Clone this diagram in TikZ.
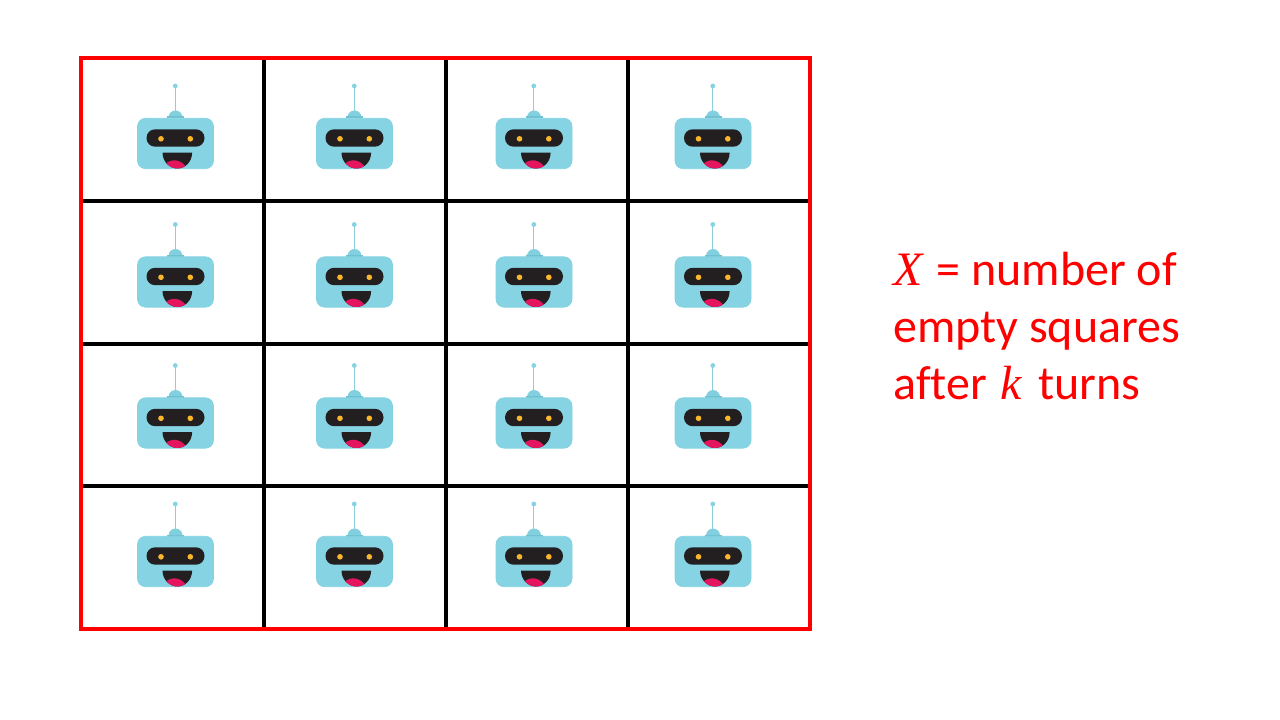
\documentclass[tikz,border=0pt]{standalone}
\usepackage{fontspec}
\usepackage{tikz}
\setmainfont{Carlito}[Ligatures=NoCommon]
\newfontfamily\varfont{Liberation Serif}
\definecolor{botblue}{HTML}{85D3E3}
\definecolor{botdark}{HTML}{6FC1D0}
\definecolor{botface}{HTML}{231F20}
\definecolor{boteye}{HTML}{FBB72C}
\definecolor{botpink}{HTML}{E5145F}
\tikzset{
    gridline/.style={line width=3pt,black},
    outline/.style={line width=3pt,red},
    label/.style={text=red,inner sep=0pt,align=left,font=\fontsize{36}{42.75}\selectfont},
    robot/.pic={
        \draw [botdark!80!white,line width=1pt] (-.2,-28) -- (-.2,-57);
        \fill [botblue] (-.2,-57.5) circle (2.4);
        \fill [botblue!80!botdark] (-7,-26) arc (180:360:7) -- cycle;
        \fill [botdark] (-8.5,-27) rectangle (8.5,-25);
        \draw [botblue!92!botdark,fill=botblue,line width=.5pt,rounded corners=6pt]
            (-38,-25.2) rectangle (38,25.2);
        \fill [botface,rounded corners=6.4pt] (-29,-14.2) rectangle (29,3.2);
        \fill [boteye] (-14.5,-4.7) circle (2.8);
        \fill [boteye] (14.8,-4.7) circle (2.8);
        \begin{scope}
            \clip (-13,9.2) -- (16.6,9.2) .. controls (16.6,18) and (10,25) .. (1.9,25)
                .. controls (-6,25) and (-13,18) .. (-13,9.2) -- cycle;
            \fill [botface] (-14,8) rectangle (18,26);
            \fill [botpink] (-10,20.5) .. controls (-4,14.5) and (7,15.5) .. (12,26) -- (-10,26) -- cycle;
        \end{scope}
    }
}
\begin{document}
\begin{tikzpicture}[x=.75pt,y=-.75pt]
    \useasboundingbox (0,0) rectangle (1280,720);
    % grid lines
    \draw [gridline] (263.5,58) -- (263.5,629);
    \draw [gridline] (445.5,58) -- (445.5,629);
    \draw [gridline] (628,58) -- (628,629);
    \draw [gridline] (81,201) -- (810,201);
    \draw [gridline] (81,343.5) -- (810,343.5);
    \draw [gridline] (81,486) -- (810,486);
    \draw [outline] (81,58) rectangle (810,629);
    % robots
    \pic at (175.5,143.5) {robot};
    \pic at (354.5,143.5) {robot};
    \pic at (534,143.5) {robot};
    \pic at (713,143.5) {robot};
    \pic at (175.5,282) {robot};
    \pic at (354.5,282) {robot};
    \pic at (534,282) {robot};
    \pic at (713,282) {robot};
    \pic at (175.5,423) {robot};
    \pic at (354.5,423) {robot};
    \pic at (534,423) {robot};
    \pic at (713,423) {robot};
    \pic at (175.5,561.5) {robot};
    \pic at (354.5,561.5) {robot};
    \pic at (534,561.5) {robot};
    \pic at (713,561.5) {robot};
    \node [label,anchor=base west] (caption) at (893,399)
        {{\varfont\itshape X}\hspace{2.5pt} = number of\\empty squares\\after\hspace{2pt} {\varfont\itshape k}\hspace{4.5pt} turns};
\end{tikzpicture}
\end{document}
